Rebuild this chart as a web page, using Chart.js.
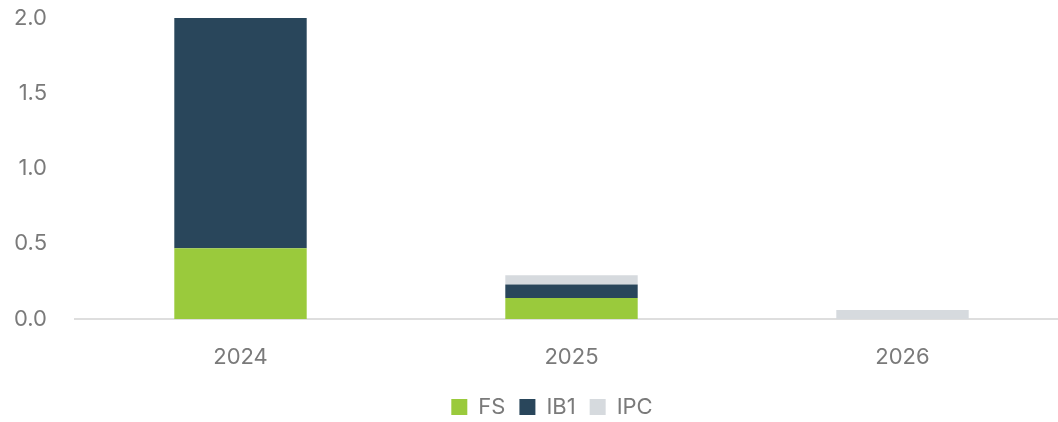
<!DOCTYPE html>
<html>
<head>
<meta charset="utf-8">
<script src="https://cdn.jsdelivr.net/npm/chart.js@4"></script>
<style>
  html, body { margin: 0; padding: 0; background: #ffffff; overflow: hidden; }
  #wrap { width: 1068px; height: 422px; }
</style>
</head>
<body>
<div id="wrap"><canvas id="chart" width="1068" height="422"></canvas></div>
<script>
const years = ["2024", "2025", "2026"];
const fs = [0.47, 0.14, 0];
const ib1 = [1.53, 0.09, 0];
const ipc = [0, 0.06, 0.06];
const yTicks = [0, 0.5, 1.0, 1.5, 2.0];

const textColor = "#7a7a7a";
const font = { family: "Inter, 'Noto Sans', sans-serif", size: 22 };

// the legend in the original sits a bit right of centre
const legendShift = {
  id: "legendShift",
  afterLayout(chart) {
    chart.legend.left += 18;
    chart.legend.right += 18;
  }
};

new Chart(document.getElementById("chart"), {
  type: "bar",
  data: {
    labels: years,
    datasets: [
      { label: "FS", data: fs, backgroundColor: "#9aca3c" },
      { label: "IB1", data: ib1, backgroundColor: "#29465b" },
      { label: "IPC", data: ipc, backgroundColor: "#d6dade" }
    ]
  },
  options: {
    responsive: false,
    animation: false,
    layout: { padding: { top: 18, left: 0, right: 0, bottom: -6 } },
    datasets: { bar: { categoryPercentage: 1, barPercentage: 0.4 } },
    scales: {
      x: {
        stacked: true,
        grid: { display: false },
        border: { display: true, color: "#dedede", width: 2 },
        ticks: { color: textColor, font: font, padding: 17 },
        afterFit: (axis) => { axis.height = 63; }
      },
      y: {
        stacked: true,
        min: 0,
        max: 2,
        afterBuildTicks: (axis) => { axis.ticks = yTicks.map(v => ({ value: v })); },
        grid: { display: false },
        border: { display: false },
        ticks: {
          color: textColor,
          font: font,
          padding: 20,
          callback: (v) => Number(v).toFixed(1)
        },
        afterFit: (axis) => {
          axis.width = 75;
          axis.paddingTop = 0;
          axis.paddingBottom = 0;
        }
      }
    },
    plugins: {
      tooltip: { enabled: false },
      legend: {
        position: "bottom",
        labels: {
          color: textColor,
          font: font,
          boxWidth: 16,
          boxHeight: 16,
          padding: 14
        }
      }
    }
  },
  plugins: [legendShift]
});
</script>
</body>
</html>
